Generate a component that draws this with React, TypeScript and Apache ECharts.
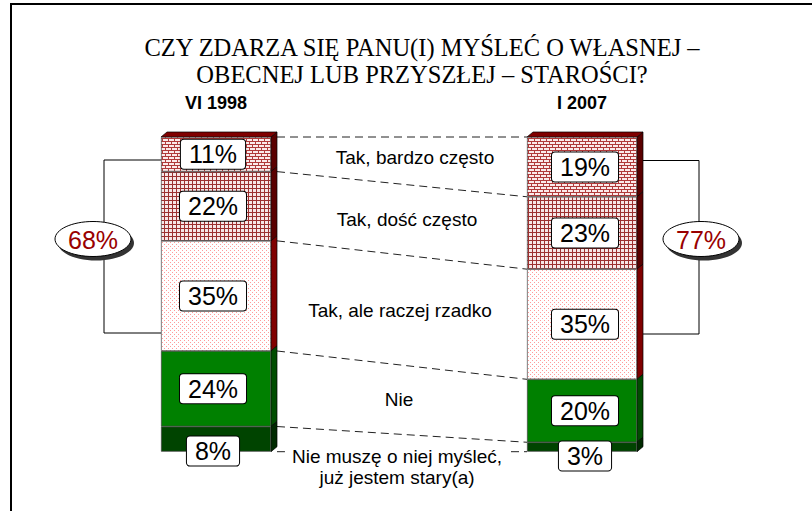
import React, { useEffect, useRef } from 'react';
import * as echarts from 'echarts';

// ---- data ----
const periods = ['VI 1998', 'I 2007'];
const answers = [
  'Tak, bardzo często',
  'Tak, dość często',
  'Tak, ale raczej rzadko',
  'Nie',
  'Nie muszę o niej myśleć,\njuż jestem stary(a)',
];
const values1998 = [11, 22, 35, 24, 8];
const values2007 = [19, 23, 35, 20, 3];
const titleLines = ['CZY ZDARZA SIĘ PANU(I) MYŚLEĆ O WŁASNEJ –', 'OBECNEJ LUB PRZYSZŁEJ – STAROŚCI?'];

// ---- style ----
const SANS = '"Liberation Sans", Arial, sans-serif';
const SERIF = '"Liberation Serif", "Times New Roman", serif';
const BAR_W = 110;
const DX = 6;
const DY = 5;
const sideColors = ['#5a0000', '#5a0000', '#800000', '#004d00', '#002a00'];
const labelDx = [13, 5, -2, -3, -5];
const labelDy = [-3, 0, 0, 0, 24];

function makeCanvas(w: number, h: number, draw: (ctx: CanvasRenderingContext2D) => void) {
  const c = document.createElement('canvas');
  c.width = w;
  c.height = h;
  const ctx = c.getContext('2d')!;
  draw(ctx);
  return c;
}

export default function App() {
  const ref = useRef<HTMLDivElement>(null);
  useEffect(() => {
    if (!ref.current) return;
    const chart = echarts.init(ref.current, undefined, { renderer: 'svg' });

    const brick = makeCanvas(6, 6, (ctx) => {
      ctx.fillStyle = '#fbeaea';
      ctx.fillRect(0, 0, 6, 6);
      ctx.fillStyle = '#b03a3a';
      ctx.fillRect(0, 0, 6, 1);
      ctx.fillRect(0, 3, 6, 1);
      ctx.fillRect(0, 0, 1, 3);
      ctx.fillRect(3, 3, 1, 3);
    });
    const plaid = makeCanvas(4, 4, (ctx) => {
      ctx.fillStyle = '#f6e6e6';
      ctx.fillRect(0, 0, 4, 4);
      ctx.fillStyle = '#9c3030';
      ctx.fillRect(0, 0, 4, 1);
      ctx.fillRect(0, 0, 1, 4);
    });
    const dots = makeCanvas(4, 4, (ctx) => {
      ctx.fillStyle = '#ffffff';
      ctx.fillRect(0, 0, 4, 4);
      ctx.fillStyle = '#ff9a9a';
      ctx.fillRect(0, 0, 1, 1);
      ctx.fillRect(2, 2, 1, 1);
    });
    const fills: any[] = [
      { image: brick, repeat: 'repeat' },
      { image: plaid, repeat: 'repeat' },
      { image: dots, repeat: 'repeat' },
      '#008000',
      '#004400',
    ];

    const cols = [values1998, values2007];
    const cum = cols.map((vals) => {
      const out = [0];
      vals.forEach((v) => out.push(out[out.length - 1] + v));
      return out;
    });
    const totals = cols.map((vals) => vals[0] + vals[1] + vals[2]);

    const barSeries = answers.map((name, s) => ({
      type: 'bar',
      name,
      stack: 'all',
      barWidth: BAR_W,
      z: 3,
      data: cols.map((vals, ci) => ({
        value: vals[s],
        label: {
          offset: [ci === 0 ? -3 : 3, s === answers.length - 1 ? (ci === 0 ? 12 : 9) : 0],
        },
      })),
      itemStyle: { color: fills[s], borderColor: '#404040', borderWidth: 0.7 },
      label: {
        show: true,
        position: 'inside',
        formatter: '{c}%',
        fontFamily: SANS,
        fontSize: 25,
        color: '#000',
        backgroundColor: '#fff',
        borderColor: '#000',
        borderWidth: 1,
        borderRadius: 3,
        padding: [3, 8, 1, 8],
      },
    }));

    const faceData: number[][] = [];
    cols.forEach((vals, ci) => {
      vals.forEach((v, s) => faceData.push([ci, cum[ci][s], cum[ci][s + 1], s]));
    });

    const connData = cum[0].map((v, k) => [0, v, cum[1][k]]);
    const textData = answers.map((a, i) => [
      i,
      (cum[0][i] + cum[0][i + 1]) / 2,
      (cum[1][i] + cum[1][i + 1]) / 2,
    ]);

    chart.setOption({
      animation: false,
      backgroundColor: '#fff',
      grid: { left: 33, right: 47, top: 137, bottom: 59.3 },
      xAxis: {
        type: 'category',
        data: periods,
        position: 'top',
        axisLine: { show: false },
        axisTick: { show: false },
        axisLabel: {
          margin: 25,
          fontFamily: SANS,
          fontSize: 18,
          fontWeight: 'bold',
          color: '#000',
        },
      },
      yAxis: {
        type: 'value',
        min: 0,
        max: 100,
        inverse: true,
        show: false,
      },
      series: [
        ...barSeries,
        {
          type: 'custom',
          z: 2,
          data: faceData,
          encode: { x: 0, y: [1, 2] },
          renderItem: (params: any, api: any) => {
            const c = api.value(0);
            const a = api.value(1);
            const b = api.value(2);
            const s = api.value(3);
            const p1 = api.coord([c, a]);
            const p2 = api.coord([c, b]);
            const xl = p1[0] - BAR_W / 2;
            const xr = p1[0] + BAR_W / 2;
            const y1 = p1[1];
            const y2 = p2[1];
            const children: any[] = [
              {
                type: 'polygon',
                shape: { points: [[xr, y1], [xr + DX, y1 - DY], [xr + DX, y2 - DY], [xr, y2]] },
                style: { fill: sideColors[s], stroke: '#000', lineWidth: 0.7 },
              },
            ];
            if (s === 0) {
              children.push({
                type: 'polygon',
                shape: { points: [[xl, y1], [xl + DX, y1 - DY], [xr + DX, y1 - DY], [xr, y1]] },
                style: { fill: '#800000', stroke: '#000', lineWidth: 0.7 },
              });
            }
            return { type: 'group', children };
          },
        },
        {
          type: 'custom',
          z: 1,
          data: connData,
          encode: { x: 0, y: [1, 2] },
          renderItem: (params: any, api: any) => {
            const pL = api.coord([0, api.value(1)]);
            const pR = api.coord([1, api.value(2)]);
            return {
              type: 'line',
              shape: { x1: pL[0] + BAR_W / 2 + DX, y1: pL[1], x2: pR[0] - BAR_W / 2, y2: pR[1] },
              style: { stroke: '#222', lineWidth: 1, lineDash: [8, 5] },
            };
          },
        },
        {
          type: 'custom',
          z: 4,
          data: textData,
          encode: { x: 0, y: [1, 2] },
          renderItem: (params: any, api: any) => {
            const i = api.value(0);
            const pL = api.coord([0, api.value(1)]);
            const pR = api.coord([1, api.value(2)]);
            const x = (pL[0] + BAR_W / 2 + DX + pR[0] - BAR_W / 2) / 2 + labelDx[i];
            const y = (pL[1] + pR[1]) / 2 + labelDy[i];
            return {
              type: 'text',
              x,
              y,
              z2: 10,
              style: {
                text: answers[i],
                fontFamily: SANS,
                fontSize: 19,
                lineHeight: 21,
                fill: '#000',
                align: 'center',
                verticalAlign: 'middle',
                backgroundColor: '#fff',
                padding: [1, 7],
              },
            };
          },
        },
      ],
      graphic: [
        { type: 'line', shape: { x1: 11, y1: 4, x2: 11, y2: 511 }, style: { stroke: '#000', lineWidth: 2 } },
        { type: 'line', shape: { x1: 10, y1: 4, x2: 812, y2: 4 }, style: { stroke: '#000', lineWidth: 2 } },
        {
          type: 'text',
          x: 422,
          y: 47,
          style: { text: titleLines[0], fontFamily: SERIF, fontSize: 24.5, fill: '#000', align: 'center', verticalAlign: 'middle' },
        },
        {
          type: 'text',
          x: 422,
          y: 74,
          style: { text: titleLines[1], fontFamily: SERIF, fontSize: 24.5, fill: '#000', align: 'center', verticalAlign: 'middle' },
        },
        {
          type: 'polyline',
          shape: { points: [[161, 160], [104, 160], [104, 333], [161, 333]] },
          style: { stroke: '#000', lineWidth: 1, fill: null },
        },
        {
          type: 'polyline',
          shape: { points: [[642, 160.5], [699, 160.5], [699, 334], [642, 334]] },
          style: { stroke: '#000', lineWidth: 1, fill: null },
        },
        ...[93, 701].flatMap((cx, i) => [
          { type: 'ellipse', shape: { cx: cx + 3, cy: 243, rx: 38, ry: 17.5 }, style: { fill: '#333' } },
          { type: 'ellipse', shape: { cx, cy: 239, rx: 38, ry: 17.5 }, style: { fill: '#fff', stroke: '#000', lineWidth: 1 } },
          {
            type: 'text',
            x: cx,
            y: 240,
            style: {
              text: totals[i] + '%',
              fontFamily: SANS,
              fontSize: 25,
              fill: '#990000',
              align: 'center',
              verticalAlign: 'middle',
            },
          },
        ]),
      ],
    });
    return () => chart.dispose();
  }, []);
  return <div ref={ref} style={{ position: 'fixed', left: 0, top: 0, width: 812, height: 511 }} />;
}
